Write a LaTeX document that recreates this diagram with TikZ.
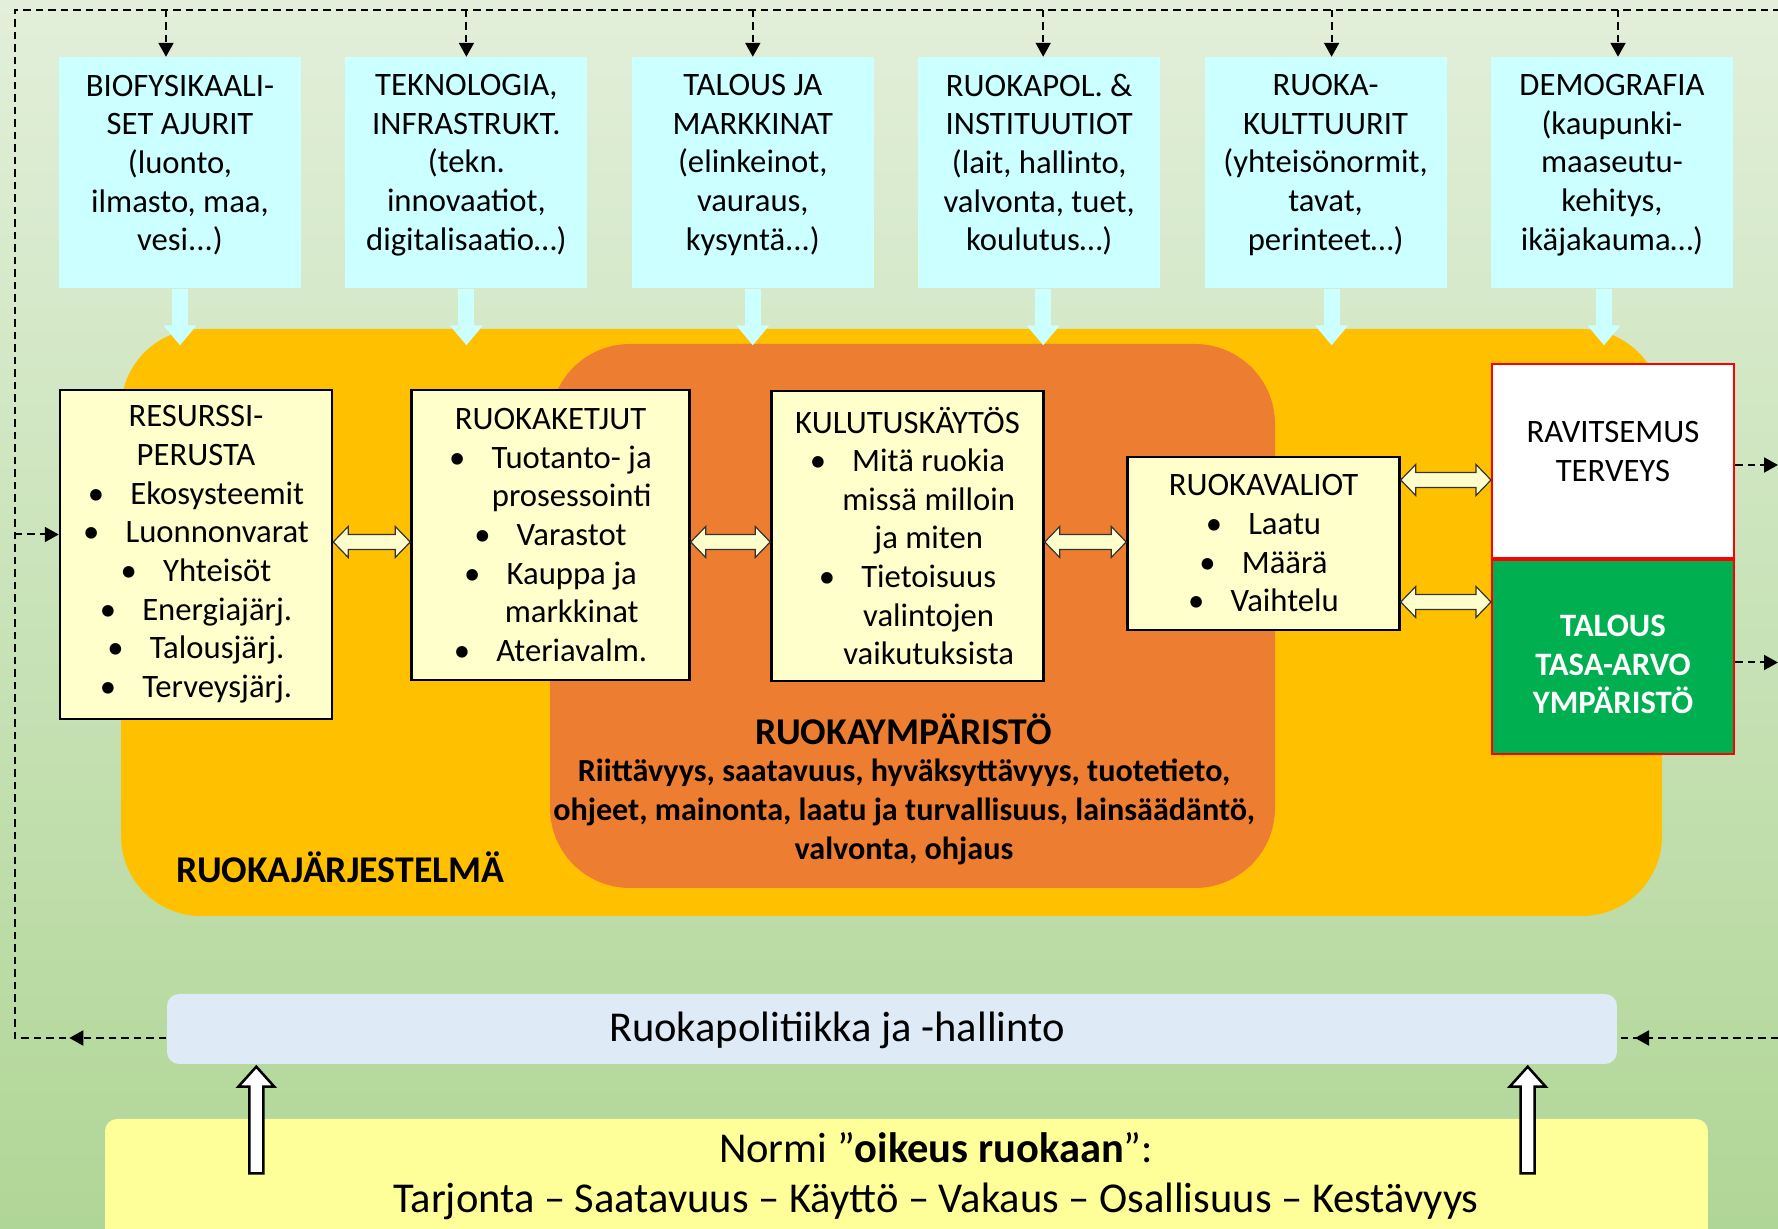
\documentclass[tikz,border=0pt]{standalone}
\usepackage{fontspec}
\setmainfont{Carlito}
\usetikzlibrary{arrows.meta,calc,positioning}
\definecolor{bgtop}{RGB}{226,239,218}
\definecolor{bgbot}{RGB}{176,214,150}
\definecolor{drivercyan}{RGB}{204,255,255}
\definecolor{sysyellow}{RGB}{255,192,0}
\definecolor{envorange}{RGB}{237,125,49}
\definecolor{boxcream}{RGB}{255,255,204}
\definecolor{okgreen}{RGB}{0,176,80}
\definecolor{polblue}{RGB}{222,235,247}
\definecolor{normyellow}{RGB}{255,255,153}
\newcommand\boxfont{\fontsize{9.3}{11}\selectfont}
\newcommand\envfont{\fontsize{9.15}{11}\selectfont}
\newcommand\titlefont{\fontsize{10.75}{13}\selectfont}
\newcommand\polfont{\fontsize{12.1}{14.2}\selectfont}
\newcommand\itm{\textbullet\hspace{0.8em}}
\newcommand\cnt{\phantom{\textbullet\hspace{0.8em}}}
\newcommand\twoway[2]{\draw[twowaystyle] let \p1=(#1), \p2=(#2) in
  (\x1,\y1) -- ({\x1+1.5mm},{\y1+1.55mm}) -- ({\x1+1.5mm},{\y1+0.75mm})
  -- ({\x2-1.5mm},{\y1+0.75mm}) -- ({\x2-1.5mm},{\y1+1.55mm}) -- (\x2,\y1)
  -- ({\x2-1.5mm},{\y1-1.55mm}) -- ({\x2-1.5mm},{\y1-0.75mm})
  -- ({\x1+1.5mm},{\y1-0.75mm}) -- ({\x1+1.5mm},{\y1-1.55mm}) -- cycle;}
\newcommand\upway[2]{\draw[upwaystyle] let \p1=(#1), \p2=(#2) in
  ({\x1-0.7mm},\y1) -- ({\x1-0.7mm},{\y2-2mm}) -- ({\x1-1.8mm},{\y2-2mm}) -- (\x1,\y2)
  -- ({\x1+1.8mm},{\y2-2mm}) -- ({\x1+0.7mm},{\y2-2mm}) -- ({\x1+0.7mm},\y1) -- cycle;}
\tikzset{
  driver/.style={fill=drivercyan, minimum width=24.2mm, minimum height=23.1mm, align=center, font=\boxfont, inner sep=0pt, text height=45.5pt},
  stage/.style={draw, line width=0.25mm, fill=boxcream, align=center, font=\boxfont, inner sep=0pt},
  outcome/.style={draw=red, line width=0.2mm, minimum width=24.2mm, minimum height=19.4mm, align=center, font=\boxfont, inner sep=0pt},
  fb/.style={dash pattern=on 0.75mm off 0.5mm, line width=0.2mm},
  fbtip/.style={-{Triangle[length=1.4mm,width=1.5mm]}},
  feed/.style={drivercyan, line width=1.6mm, -{Triangle[length=2mm,width=3.2mm]}},
  twowaystyle/.style={draw=black!80, fill=boxcream, line width=0.12mm},
  upwaystyle/.style={draw, line width=0.25mm, fill=white},
}
\begin{document}
\begin{tikzpicture}[x=0.1mm, y=-0.1mm, node distance=4.3mm]
\useasboundingbox (0,0) rectangle (1778,1229);
\shade[top color=bgtop, bottom color=bgbot] (0,0) rectangle (1778,1229);
\coordinate (tl) at (15,10);
\coordinate (tr) at (1778,10);
\coordinate (bl) at (15,1038);
\coordinate (br) at (1778,1038);
\coordinate (midrow) at (0,542);

\node[fill=sysyellow, rounded corners=8mm, minimum width=154.1mm, minimum height=58.7mm] (sys) at (891.5,622.5) {};
\node[fill=envorange, rounded corners=8mm, minimum width=72.5mm, minimum height=54.4mm] (env) at (912.5,616) {};

\node[driver] (d1) at (180,173) {BIOFYSIKAALI-\\SET AJURIT\\(luonto,\\ilmasto, maa,\\vesi...)};
\node[driver, right=of d1] (d2) {TEKNOLOGIA,\\INFRASTRUKT.\\(tekn.\\innovaatiot,\\digitalisaatio…)};
\node[driver, right=of d2] (d3) {TALOUS JA\\MARKKINAT\\(elinkeinot,\\vauraus,\\kysyntä...)};
\node[driver, right=of d3] (d4) {RUOKAPOL. \&\\INSTITUUTIOT\\(lait, hallinto,\\valvonta, tuet,\\koulutus…)};
\node[driver, right=of d4] (d5) {RUOKA-\\KULTTUURIT\\(yhteisönormit,\\tavat,\\perinteet…)};
\node[driver, right=of d5] (d6) {DEMOGRAFIA\\(kaupunki-\\maaseutu-\\kehitys,\\ikäjakauma…)};

\foreach \d/\s in {d1/0mm, d2/0mm, d3/0mm, d4/0.4mm, d5/0.6mm, d6/-0.8mm}
  \draw[feed] ([xshift=\s]\d.south) -- ([xshift=\s, yshift=-1.7mm]\d.south |- sys.north);

\node[stage, minimum width=27.2mm, minimum height=32.9mm] (res) at (196,554.5)
  {RESURSSI-\\PERUSTA\\\itm Ekosysteemit\\\itm Luonnonvarat\\\itm Yhteisöt\\\itm Energiajärj.\\\itm Talousjärj.\\\itm Terveysjärj.};
\node[stage, minimum width=27.8mm, minimum height=29mm, right=7.7mm of res.north east, anchor=north west] (ket)
  {RUOKAKETJUT\\\itm Tuotanto- ja\\\cnt prosessointi\\\itm Varastot\\\itm Kauppa ja\\\cnt markkinat\\\itm Ateriavalm.};
\node[stage, minimum width=27.2mm, minimum height=29mm, right=7.95mm of ket.north east, anchor=north west, yshift=-0.1mm] (kul)
  {KULUTUSKÄYTÖS\\\itm Mitä ruokia\\\cnt missä milloin\\\cnt ja miten\\\itm Tietoisuus\\\cnt valintojen\\\cnt vaikutuksista};
\node[stage, minimum width=27.2mm, minimum height=17.3mm, right=8.15mm of kul, yshift=-0.75mm] (val)
  {RUOKAVALIOT\\\itm Laatu\\\itm Määrä\\\itm Vaihtelu};
\node[outcome, fill=white, text height=11.7pt] (rav) at (1613,461) {RAVITSEMUS\\TERVEYS};
\node[outcome, fill=okgreen, below=0mm of rav, text=white, font=\boxfont\bfseries, text height=32.4pt] (grn) {TALOUS\\TASA-ARVO\\YMPÄRISTÖ};

\twoway{res.east |- midrow}{ket.west |- midrow}
\twoway{ket.east |- midrow}{kul.west |- midrow}
\twoway{kul.east |- midrow}{val.west |- midrow}
\twoway{$(val.east |- rav.west)+(0,19)$}{$(rav.west)+(0,19)$}
\twoway{$(val.east |- grn.west)+(0,-55)$}{$(grn.west)+(0,-55)$}

\node[font=\titlefont\bfseries, anchor=west, inner sep=0pt] (systitle) at (176,867) {RUOKAJÄRJESTELMÄ};
\node[font=\titlefont\bfseries] (envtitle) at (904,729) {RUOKAYMPÄRISTÖ};
\node[font=\envfont\bfseries, align=center] (envtext) at (904,812)
  {Riittävyys, saatavuus, hyväksyttävyys, tuotetieto,\\ohjeet, mainonta, laatu ja turvallisuus, lainsäädäntö,\\valvonta, ohjaus};

\node[fill=polblue, rounded corners=1.2mm, minimum width=145mm, minimum height=7mm] (pol) at (892,1029) {};
\node[font=\polfont] (poltext) at (837,1030) {Ruokapolitiikka ja -hallinto};
\node[fill=normyellow, rounded corners=1.2mm, minimum width=160.3mm, minimum height=14mm] (normi) at (906.5,1189) {};
\node[font=\polfont, align=center] (normtext) at (936,1176)
  {Normi ”\textbf{oikeus ruokaan}”:\\Tarjonta – Saatavuus – Käyttö – Vakaus – Osallisuus – Kestävyys};

\draw[fb] (pol.west |- bl) -- (bl) -- (tl) -- (tr);
\foreach \d/\s in {d1/-1.4mm, d2/0mm, d3/0mm, d4/0.4mm, d5/0.6mm, d6/0.6mm}
  \draw[fb, fbtip] ([xshift=\s]\d.north |- tl) -- ([xshift=\s]\d.north);
\draw[fb, fbtip] (pol.west |- bl) -- ++(-97,0);
\draw[fb] (br) -- (pol.east |- br);
\draw[fb, fbtip] (br) -- ++(-143,0);
\draw[fb, fbtip] ([yshift=2mm]tl |- res.west) -- ([yshift=2mm]res.west);
\draw[fb, fbtip] ([yshift=-0.4mm]rav.east) -- ([yshift=-0.4mm]rav.east -| br);
\draw[fb, fbtip] ([yshift=-0.55mm]grn.east) -- ([yshift=-0.55mm]grn.east -| br);

\upway{$(normi.north west)+(152,55)$}{$(pol.south west)+(90,2)$}
\upway{$(normi.north east)+(-181,55)$}{$(pol.south east)+(-90,2)$}
\end{tikzpicture}
\end{document}
